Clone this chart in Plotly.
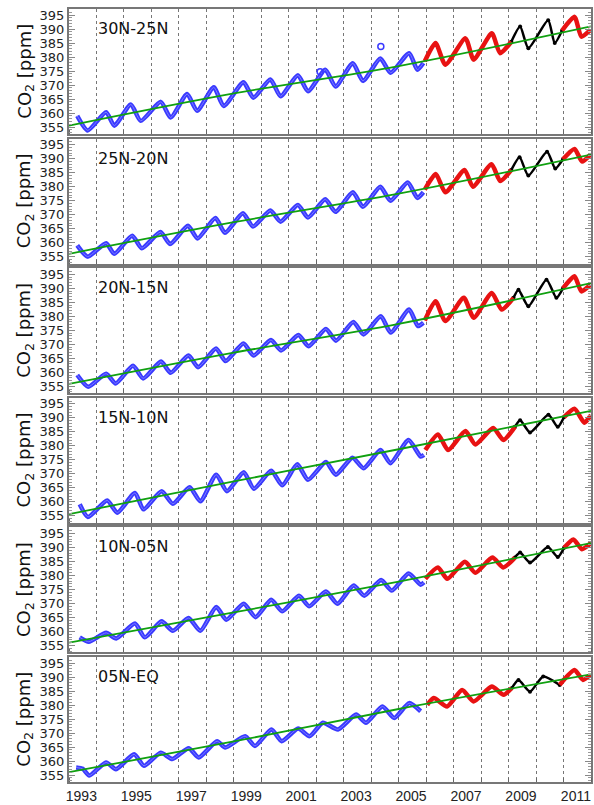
import plotly.graph_objects as go

# ---------------- data ----------------
panel_names = ["30N-25N", "25N-20N", "20N-15N", "15N-10N", "10N-05N", "05N-EQ"]

year_labels = [1993, 1995, 1997, 1999, 2001, 2003, 2005, 2007, 2009, 2011]
y_ticks = [355, 360, 365, 370, 375, 380, 385, 390, 395]

trend_t = [1993.0, 1999.0, 2005.0, 2012.0]
trend_v = [
    [355.5, 367.0, 376.8, 391.0],
    [356.0, 367.3, 377.5, 391.5],
    [355.8, 367.0, 377.3, 391.9],
    [355.6, 367.3, 378.8, 392.5],
    [356.0, 366.8, 377.8, 391.6],
    [356.0, 367.0, 378.6, 391.0],
]

# panel 1: 30N-25N
p1_blue_t = [1993.30, 1993.68, 1994.35, 1994.65, 1995.25, 1995.61, 1996.34, 1996.70, 1997.30, 1997.66,
             1998.27, 1998.63, 1999.35, 1999.71, 2000.33, 2000.70, 2001.33, 2001.70, 2002.33, 2002.70,
             2003.33, 2003.70, 2004.33, 2004.71, 2005.38, 2005.68, 2005.90]
p1_blue_v = [359.0, 353.8, 360.3, 355.5, 363.1, 357.2, 364.0, 358.4, 366.8, 360.8,
             369.2, 362.5, 371.0, 365.5, 372.0, 366.0, 373.5, 367.8, 375.5, 369.5,
             377.8, 371.5, 379.5, 374.4, 381.4, 375.5, 377.9]
p1_red_t = [2005.95, 2006.34, 2006.70, 2007.43, 2007.73, 2008.39, 2008.69, 2009.10]
p1_red_v = [378.5, 385.0, 377.3, 386.7, 379.1, 388.5, 381.4, 385.5]
p1_black_t = [2009.10, 2009.42, 2009.72, 2010.44, 2010.68, 2010.95]
p1_black_v = [385.5, 390.9, 383.2, 393.2, 385.0, 389.5]
p1_red2_t = [2010.95, 2011.40, 2011.65, 2011.98]
p1_red2_v = [389.5, 394.4, 387.3, 389.7]
p1_extra_t = [2002.14, 2004.35]
p1_extra_v = [374.8, 383.8]

# panel 2: 25N-20N
p2_blue_t = [1993.30, 1993.68, 1994.35, 1994.65, 1995.30, 1995.65, 1996.33, 1996.68, 1997.33, 1997.68,
             1998.33, 1998.68, 1999.33, 1999.70, 2000.33, 2000.70, 2001.33, 2001.70, 2002.33, 2002.70,
             2003.33, 2003.70, 2004.33, 2004.70, 2005.33, 2005.68, 2005.90]
p2_blue_v = [359.0, 355.0, 359.8, 356.0, 362.5, 358.0, 363.8, 359.5, 366.0, 361.5,
             368.8, 363.5, 370.5, 365.8, 371.5, 367.5, 373.5, 369.0, 375.5, 371.0,
             378.0, 372.8, 380.0, 375.0, 381.5, 376.0, 378.0]
p2_red_t = [2005.95, 2006.35, 2006.70, 2007.40, 2007.70, 2008.38, 2008.70, 2009.10]
p2_red_v = [379.0, 384.5, 378.0, 386.0, 380.0, 388.0, 382.0, 386.0]
p2_black_t = [2009.10, 2009.40, 2009.72, 2010.40, 2010.70, 2010.98]
p2_black_v = [386.0, 390.5, 384.0, 392.5, 386.5, 389.8]
p2_red2_t = [2010.98, 2011.40, 2011.68, 2011.98]
p2_red2_v = [389.8, 393.5, 389.0, 391.5]

# panel 3: 20N-15N
p3_blue_t = [1993.30, 1993.70, 1994.35, 1994.70, 1995.33, 1995.70, 1996.35, 1996.70, 1997.35, 1997.70,
             1998.35, 1998.70, 1999.35, 1999.72, 2000.35, 2000.72, 2001.35, 2001.72, 2002.35, 2002.72,
             2003.35, 2003.72, 2004.35, 2004.71, 2005.38, 2005.70, 2005.90]
p3_blue_v = [359.0, 354.8, 359.5, 356.0, 362.3, 357.8, 363.8, 359.8, 366.0, 361.8,
             368.5, 364.0, 370.3, 366.0, 371.5, 367.8, 373.3, 369.3, 375.5, 371.3,
             378.0, 373.5, 380.0, 374.2, 382.4, 376.5, 377.7]
p3_red_t = [2005.95, 2006.34, 2006.70, 2007.37, 2007.73, 2008.39, 2008.75, 2009.18]
p3_red_v = [378.5, 385.4, 378.3, 386.6, 379.5, 388.3, 382.4, 386.6]
p3_black_t = [2009.18, 2009.36, 2009.72, 2010.38, 2010.74, 2010.98]
p3_black_v = [386.6, 389.5, 383.6, 393.1, 386.6, 390.0]
p3_red2_t = [2010.98, 2011.40, 2011.65, 2011.98]
p3_red2_v = [390.0, 394.3, 388.9, 391.3]

# panel 4: 15N-10N
p4_blue_t = [1993.39, 1993.69, 1994.39, 1994.76, 1995.40, 1995.71, 1996.37, 1996.78, 1997.39, 1997.78,
             1998.36, 1998.75, 1999.36, 1999.73, 2000.36, 2000.76, 2001.31, 2001.70, 2002.35, 2002.71,
             2003.32, 2003.72, 2004.34, 2004.70, 2005.36, 2005.80, 2005.92]
p4_blue_v = [359.1, 354.6, 360.5, 356.1, 363.2, 357.3, 363.8, 359.3, 365.2, 360.2,
             369.7, 363.8, 370.6, 364.7, 371.1, 365.9, 373.4, 367.9, 374.2, 369.7,
             375.8, 372.0, 378.5, 373.8, 382.1, 376.2, 376.8]
p4_red_t = [2005.97, 2006.43, 2006.80, 2007.43, 2007.79, 2008.44, 2008.81, 2009.23]
p4_red_v = [378.5, 384.1, 378.5, 385.3, 380.5, 386.4, 382.1, 386.8]
p4_black_t = [2009.23, 2009.42, 2009.78, 2010.45, 2010.79, 2011.02]
p4_black_v = [386.8, 389.2, 384.8, 391.1, 386.8, 390.3]
p4_red2_t = [2011.02, 2011.40, 2011.76, 2012.0]
p4_red2_v = [390.3, 393.3, 388.3, 391.0]

# panel 5: 10N-05N
p5_blue_t = [1993.39, 1993.72, 1994.35, 1994.72, 1995.40, 1995.76, 1996.37, 1996.78, 1997.35, 1997.78,
             1998.36, 1998.73, 1999.36, 1999.79, 2000.36, 2000.76, 2001.37, 2001.74, 2002.35, 2002.77,
             2003.36, 2003.75, 2004.36, 2004.75, 2005.36, 2005.80, 2005.92]
p5_blue_v = [357.9, 356.3, 359.5, 357.5, 362.8, 357.9, 363.6, 360.2, 364.8, 360.2,
             368.7, 364.2, 369.9, 365.1, 371.3, 367.2, 372.8, 369.0, 374.3, 369.9,
             376.4, 372.8, 378.4, 374.6, 380.7, 376.7, 377.5]
p5_red_t = [2005.97, 2006.43, 2006.77, 2007.41, 2007.79, 2008.41, 2008.81, 2009.23]
p5_red_v = [378.8, 382.9, 378.8, 384.9, 381.0, 386.4, 382.9, 386.4]
p5_black_t = [2009.23, 2009.42, 2009.78, 2010.43, 2010.79, 2011.02]
p5_black_v = [386.4, 388.2, 384.6, 390.2, 386.6, 389.9]
p5_red2_t = [2011.02, 2011.36, 2011.67, 2012.0]
p5_red2_v = [389.9, 392.9, 389.4, 391.6]

# panel 6: 05N-EQ
p6_blue_t = [1993.26, 1993.50, 1993.74, 1994.35, 1994.71, 1995.37, 1995.73, 1996.34, 1996.76, 1997.36,
             1997.72, 1998.39, 1998.69, 1999.41, 1999.77, 2000.37, 2000.74, 2001.34, 2001.76, 2002.24,
             2002.79, 2003.45, 2003.81, 2004.41, 2004.84, 2005.38, 2005.80]
p6_blue_v = [357.7, 357.2, 354.8, 359.5, 357.1, 362.4, 358.3, 363.0, 360.7, 364.6,
             361.3, 367.1, 364.8, 368.9, 365.4, 371.3, 367.1, 371.6, 368.9, 373.7,
             371.3, 376.6, 373.7, 379.5, 375.4, 380.7, 377.8]
p6_red_t = [2006.04, 2006.28, 2006.76, 2007.31, 2007.73, 2008.39, 2008.82, 2009.11]
p6_red_v = [380.1, 382.5, 379.5, 385.4, 381.3, 386.6, 383.7, 386.0]
p6_black_t = [2009.11, 2009.36, 2009.78, 2010.26, 2010.86]
p6_black_v = [386.0, 389.0, 384.8, 390.2, 387.2]
p6_red2_t = [2010.86, 2011.40, 2011.71, 2011.98]
p6_red2_v = [387.2, 392.5, 389.0, 390.8]

panels = [
    (p1_blue_t, p1_blue_v, p1_red_t, p1_red_v, p1_black_t, p1_black_v, p1_red2_t, p1_red2_v),
    (p2_blue_t, p2_blue_v, p2_red_t, p2_red_v, p2_black_t, p2_black_v, p2_red2_t, p2_red2_v),
    (p3_blue_t, p3_blue_v, p3_red_t, p3_red_v, p3_black_t, p3_black_v, p3_red2_t, p3_red2_v),
    (p4_blue_t, p4_blue_v, p4_red_t, p4_red_v, p4_black_t, p4_black_v, p4_red2_t, p4_red2_v),
    (p5_blue_t, p5_blue_v, p5_red_t, p5_red_v, p5_black_t, p5_black_v, p5_red2_t, p5_red2_v),
    (p6_blue_t, p6_blue_v, p6_red_t, p6_red_v, p6_black_t, p6_black_v, p6_red2_t, p6_red2_v),
]

# ---------------- figure ----------------
W, H = 594, 805
M_L, M_R, M_T, M_B = 69, 1, 9, 17
plot_h = H - M_T - M_B
panel_h = 126.0
gap = (plot_h - 6 * panel_h) / 5.0

BLUE = "#3a3aff"
BLUE_IN = "#7c7cff"
RED = "#e81212"
GREEN = "#10a010"
FRAME = "#777777"

fig = go.Figure()
layout = dict(
    width=W, height=H,
    margin=dict(l=M_L, r=M_R, t=M_T, b=M_B),
    paper_bgcolor="white", plot_bgcolor="white",
    showlegend=False,
    annotations=[],
)

for k, (bt, bv, rt, rv, kt, kv, r2t, r2v) in enumerate(panels):
    xa = "x" if k == 0 else f"x{k+1}"
    ya = "y" if k == 0 else f"y{k+1}"
    top = min(1.0, max(0.0, 1 - k * (panel_h + gap) / plot_h))
    bot = min(1.0, max(0.0, top - panel_h / plot_h))
    if k == 5:
        bot = 0.0

    # black segment
    fig.add_trace(go.Scatter(x=kt, y=kv, mode="lines+markers", xaxis=xa, yaxis=ya,
                             line=dict(color="black", width=2.5, shape="spline", smoothing=0.6),
                             marker=dict(color="black", size=4)))
    # red segments
    for tt, vv in ((rt, rv), (r2t, r2v)):
        fig.add_trace(go.Scatter(x=tt, y=vv, mode="lines", xaxis=xa, yaxis=ya,
                                 line=dict(color=RED, width=4.5, shape="spline", smoothing=0.6)))
    # blue (open circles look): thick blue + lighter core
    fig.add_trace(go.Scatter(x=bt, y=bv, mode="lines", xaxis=xa, yaxis=ya,
                             line=dict(color=BLUE, width=4.5, shape="spline", smoothing=0.6)))
    fig.add_trace(go.Scatter(x=bt, y=bv, mode="lines", xaxis=xa, yaxis=ya,
                             line=dict(color=BLUE_IN, width=1, shape="spline", smoothing=0.6)))
    if k == 0:
        fig.add_trace(go.Scatter(x=p1_extra_t, y=p1_extra_v, mode="markers", xaxis=xa, yaxis=ya,
                                 marker=dict(symbol="circle-open", color=BLUE, size=6, line=dict(width=1.5))))
    # trend on top
    fig.add_trace(go.Scatter(x=trend_t, y=trend_v[k], mode="lines", xaxis=xa, yaxis=ya,
                             line=dict(color=GREEN, width=1.8, shape="spline")))

    last = (k == 5)
    layout["xaxis" if k == 0 else f"xaxis{k+1}"] = dict(
        domain=[0, 1], anchor=ya, range=[1993.0, 2012.0],
        showline=True, linecolor=FRAME, linewidth=2, mirror=True,
        showgrid=False, zeroline=False,
        tickmode="array", tickvals=[y + 0.45 for y in year_labels],
        ticktext=[str(y) for y in year_labels],
        showticklabels=last, ticks="",
        tickfont=dict(family="Liberation Sans", size=14, color="#222"),
        minor=dict(tickmode="linear", tick0=1993, dtick=1, ticks="inside", ticklen=4,
                   tickcolor="#666", showgrid=True, gridcolor="#777", griddash="dot", gridwidth=1),
    )
    if k > 0:
        layout[f"xaxis{k+1}"]["matches"] = "x"
    layout["yaxis" if k == 0 else f"yaxis{k+1}"] = dict(
        domain=[bot, top], anchor=xa, range=[352.5, 397.2],
        showline=True, linecolor=FRAME, linewidth=2, mirror="ticks",
        showgrid=False, zeroline=False,
        tickmode="array", tickvals=y_ticks, ticks="inside", ticklen=6, tickcolor="#888",
        tickfont=dict(family="DejaVu Sans", size=13, color="#222"),
        minor=dict(tickmode="linear", tick0=355, dtick=1, ticks="inside", ticklen=3, tickcolor="#999"),
    )
    layout["annotations"].append(dict(
        x=1994.0, y=390.2, xref=xa, yref=ya, text=panel_names[k], showarrow=False,
        xanchor="left", yanchor="middle", font=dict(family="DejaVu Sans", size=16, color="#111")))
    layout["annotations"].append(dict(
        x=(25 - M_L) / (W - M_L - M_R), y=(bot + top) / 2, xref="paper", yref="paper",
        text="CO<sub>2</sub> [ppm]", showarrow=False, textangle=-90,
        xanchor="center", yanchor="middle", font=dict(family="DejaVu Sans", size=18, color="#111")))

fig.update_layout(**layout)
fig.write_html("out.html")
